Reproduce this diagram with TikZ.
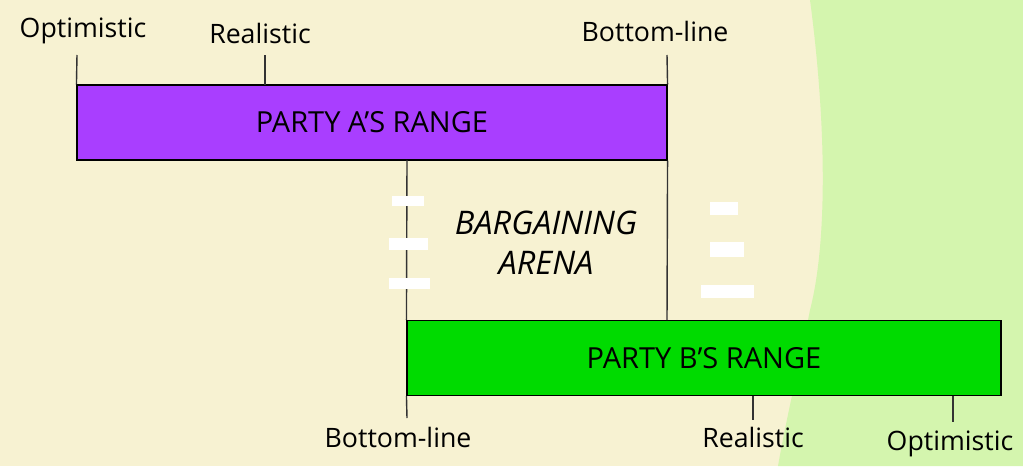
\documentclass[tikz,border=0pt]{standalone}
\usepackage{fontspec}
\setmainfont{Open Sans}
\usepackage{tikz}
\usetikzlibrary{positioning}

\definecolor{beige}{HTML}{F7F2D2}
\definecolor{lightgreen}{HTML}{D4F5AE}
\definecolor{partyA}{HTML}{A93EFF}
\definecolor{partyB}{HTML}{00DB00}

\begin{document}
\begin{tikzpicture}[x=0.02cm, y=-0.02cm,
    rangebox/.style={rectangle, draw=black, line width=0.7pt, inner sep=0pt,
                minimum height=1.5cm, font=\fontsize{16.5}{19}\selectfont},
    lbl/.style={inner sep=0pt, font=\fontsize{15.2}{18}\selectfont},
    tickline/.style={draw=black!80, line width=0.8pt},
    whitemark/.style={fill=white, draw=none}]

    % background
    \useasboundingbox (0,0) rectangle (1023,466);
    \fill[beige] (0,0) rectangle (1023,466);
    \fill[lightgreen] (810,0) .. controls (826,120) and (828,240) .. (810,310)
        .. controls (798,370) and (786,420) .. (778,466) -- (1023,466) -- (1023,0) -- cycle;

    % the two ranges
    \node[rangebox, fill=partyA, minimum width=11.8cm] (rangeA) at (372,122.5) {PARTY A’S RANGE};
    \node[rangebox, fill=partyB, minimum width=11.88cm] (rangeB) at (704,358) {PARTY B’S RANGE};

    % party A labels
    \node[lbl] (aopt) at (83,31) {Optimistic};
    \node[lbl] (areal) at (260,33) {Realistic};
    \node[lbl] (abottom) at (655,31) {Bottom-line};
    \coordinate (aoptT) at (77,55);
    \coordinate (arealT) at (265,55);
    \coordinate (arealB) at (265,85);
    \coordinate (abottomT) at (667,55);
    \draw[tickline] (rangeA.north west) -- (aoptT);
    \draw[tickline] (arealB) -- (arealT);
    \draw[tickline] (rangeA.north east) -- (abottomT);

    % party B labels
    \node[lbl] (bbottom) at (398,437) {Bottom-line};
    \node[lbl] (breal) at (753,437) {Realistic};
    \node[lbl] (bopt) at (950,444) {Optimistic};
    \coordinate (bbottomT) at (407,418);
    \coordinate (brealT) at (753,396);
    \coordinate (brealB) at (753,420);
    \coordinate (boptT) at (953,396);
    \coordinate (boptB) at (953,422);
    \draw[tickline] (rangeB.south west) -- (bbottomT);
    \draw[tickline] (brealT) -- (brealB);
    \draw[tickline] (boptT) -- (boptB);

    % bargaining arena
    \coordinate (aLeft) at (407,160);
    \draw[tickline] (aLeft) -- (rangeB.north west);
    \coordinate (bRight) at (667,320);
    \draw[tickline] (rangeA.south east) -- (bRight);
    \node[lbl, font=\fontsize{18.5}{22.7}\selectfont\itshape, align=center] (arena) at (546,243)
        {BARGAINING\\ARENA};

    % white marks
    \fill[whitemark] (392,196) rectangle (424,206);
    \fill[whitemark] (389,238) rectangle (428,250);
    \fill[whitemark] (389,278) rectangle (430,289);
    \fill[whitemark] (710,202) rectangle (738,215);
    \fill[whitemark] (710,242) rectangle (744,257);
    \fill[whitemark] (701,285) rectangle (754,298);
\end{tikzpicture}
\end{document}
